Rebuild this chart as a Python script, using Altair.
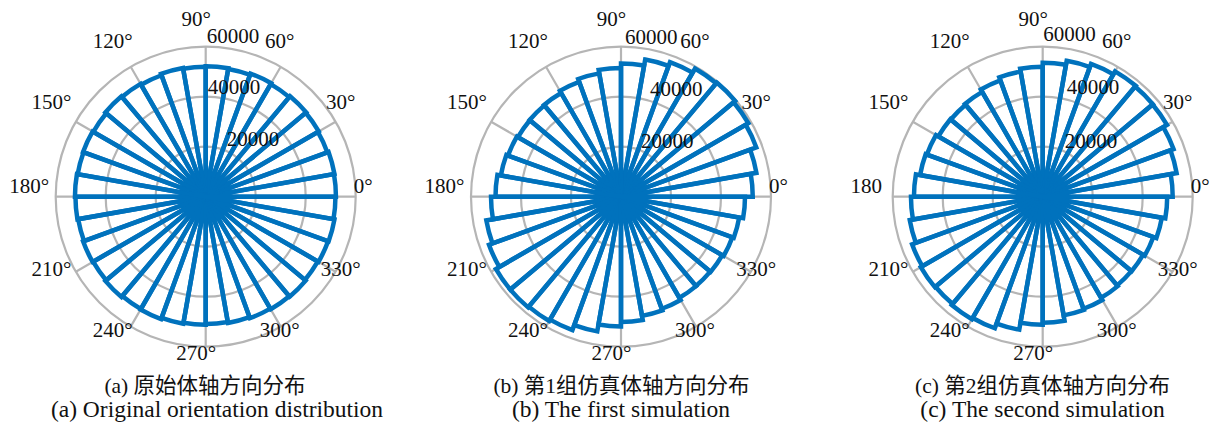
import numpy as np
import pandas as pd
import altair as alt

# ---- data -------------------------------------------------------------
# left edge of each 10-degree orientation bin (degrees, counter-clockwise from +x)
bin_start = list(range(0, 360, 10))

# counts per bin
counts_original = [
    52100, 52300, 51800, 52200, 52500, 52000, 52400, 51900, 52200,
    52000, 52300, 51700, 52100, 52400, 51900, 52200, 52000, 52300,
    52100, 51800, 52200, 52000, 52400, 51900, 52100, 51600, 51200,
    50900, 51300, 51700, 52000, 52200, 51800, 52100, 52300, 51900,
]
counts_sim1 = [
    52700, 55000, 57600, 58800, 59600, 59200, 57300, 55700, 53300,
    51500, 50100, 48900, 47900, 47700, 47600, 48100, 48800, 50200,
    52000, 54700, 56200, 57800, 57800, 57400, 56800, 54700, 51900,
    50100, 48400, 47700, 46700, 46600, 46800, 47400, 48000, 49600,
]
counts_sim2 = [
    52000, 54400, 55700, 57400, 57500, 57900, 56500, 55200, 53600,
    52000, 50800, 49500, 48400, 48000, 48200, 49300, 49800, 51500,
    52700, 54000, 55600, 56300, 56000, 56600, 56000, 54000, 51200,
    50400, 48200, 47700, 46700, 46300, 46400, 47100, 48400, 49800,
]

ring_values = [20000, 40000, 60000]
spoke_angles = list(range(0, 360, 30))
angle_labels = [f"{a}°" for a in spoke_angles]
angle_labels_c = ["180" if a == 180 else f"{a}°" for a in spoke_angles]

captions_cn = ["(a) 原始体轴方向分布", "(b) 第1组仿真体轴方向分布", "(c) 第2组仿真体轴方向分布"]
captions_en = ["(a) Original orientation distribution",
               "(b) The first simulation",
               "(c) The second simulation"]

# ---- style / layout ---------------------------------------------------
BLUE = "#0072BD"
GRID = "#b5b5b5"
INK = "#111111"
SERIF = "'Liberation Serif', 'Noto Sans CJK SC', serif"
R_MAX = 60000
R_PX = 150
CY = 196.7

radius_scale = alt.Scale(type="linear", domain=[0, R_MAX], range=[0, R_PX], zero=True)


def vega_angle(deg):
    """Math angle (ccw from east, degrees) -> Vega angle (cw from north, radians)."""
    return np.radians(90.0 - np.asarray(deg, dtype=float))


def polar_panel(counts, labels, cx, rlabel_shift):
    pos = dict(x=alt.value(cx), y=alt.value(CY))

    rings = pd.DataFrame({"t0": 0.0, "t1": 2 * np.pi, "r": ring_values})
    spokes = pd.DataFrame({"t": vega_angle(spoke_angles), "r": R_MAX})
    bars = pd.DataFrame({
        "t0": vega_angle(np.array(bin_start) + 10),
        "t1": vega_angle(bin_start),
        "count": counts,
    })
    ticks = pd.DataFrame({"t": vega_angle(spoke_angles), "label": labels})

    ring_layer = alt.Chart(rings).mark_arc(
        filled=False, stroke=GRID, strokeWidth=2.2
    ).encode(
        theta=alt.Theta("t0:Q", scale=None, stack=False),
        theta2="t1:Q",
        radius=alt.Radius("r:Q", scale=radius_scale),
        **pos,
    )
    spoke_layer = alt.Chart(spokes).mark_arc(
        filled=False, stroke=GRID, strokeWidth=2.2
    ).encode(
        theta=alt.Theta("t:Q", scale=None, stack=False),
        theta2="t:Q",
        radius=alt.Radius("r:Q", scale=radius_scale),
        **pos,
    )
    # each bin is an outlined wedge; sharp miter joins meet in a solid hub
    bar_layer = alt.Chart(bars).mark_arc(
        filled=False, stroke=BLUE, strokeWidth=4.5,
        strokeJoin="miter", strokeMiterLimit=15,
    ).encode(
        theta=alt.Theta("t0:Q", scale=None, stack=False),
        theta2="t1:Q",
        radius=alt.Radius("count:Q", scale=radius_scale),
        **pos,
    )
    angle_layer = alt.Chart(ticks).mark_text(
        font=SERIF, fontSize=21, color=INK,
        align="center", baseline="middle", dx=-9.5, dy=-10,
    ).encode(
        theta=alt.Theta("t:Q", scale=None, stack=False),
        radius=alt.value(167),
        text="label:N",
        **pos,
    )
    layers = [ring_layer, spoke_layer, bar_layer, angle_layer]
    for rv, (ddx, ddy) in zip(ring_values, rlabel_shift):
        lab = pd.DataFrame({"r": [rv], "label": [str(rv)]})
        layers.append(
            alt.Chart(lab).mark_text(
                font=SERIF, fontSize=21, color=INK,
                align="left", baseline="alphabetic", dx=ddx, dy=ddy,
            ).encode(
                theta=alt.value(0),
                radius=alt.Radius("r:Q", scale=radius_scale),
                text="label:N",
                **pos,
            )
        )
    return layers


def caption(text, x, y, size):
    return alt.Chart(pd.DataFrame({"t": [text]})).mark_text(
        font=SERIF, fontSize=size, color=INK,
        align="center", baseline="alphabetic",
    ).encode(text="t:N", x=alt.value(x), y=alt.value(y))


layers = []
layers += polar_panel(counts_original, angle_labels, 205.7,
                      [(21, -1), (2, -3), (1, -4)])
layers += polar_panel(counts_sim1, angle_labels, 621.0,
                      [(20, 1), (29, -1), (4, -3)])
layers += polar_panel(counts_sim2, angle_labels_c, 1042.7,
                      [(22, 1), (24, -3), (0.5, -6)])

for cap, x in zip(captions_cn, [205, 621.5, 1042.5]):
    layers.append(caption(cap, x, 393, 21.5))
for cap, x in zip(captions_en, [217, 621, 1042.5]):
    layers.append(caption(cap, x, 417, 23.5))

chart = alt.layer(*layers).properties(
    width=1214, height=426, padding=0, autosize="none",
    background="white",
).configure_view(strokeWidth=0)

chart.save("out.html", embed_options={"renderer": "svg", "actions": False})
